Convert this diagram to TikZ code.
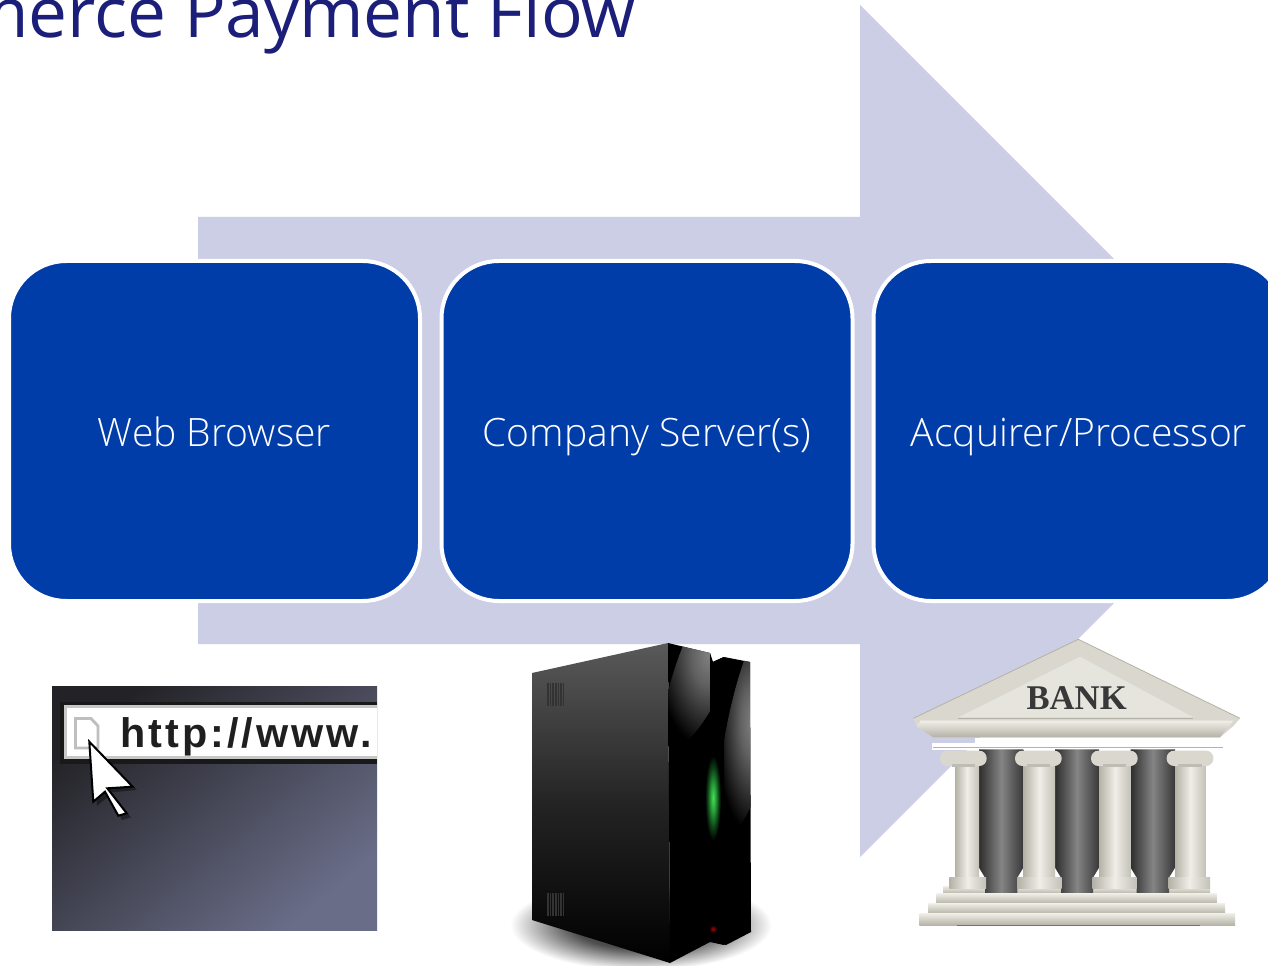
\documentclass[tikz,border=0pt]{standalone}
\usepackage{fontspec}
\setmainfont{Open Sans Light}
\newfontfamily\titlefont{Open Sans}
\newfontfamily\barfont{Liberation Sans}[LetterSpace=7.4]
\newfontfamily\bankfont{Liberation Serif}
\definecolor{arrowfill}{HTML}{CBCEE4}
\definecolor{boxfill}{HTML}{003DA9}
\definecolor{titlec}{HTML}{1B1F7A}
\definecolor{stone}{HTML}{DAD8CE}
\definecolor{stoned}{HTML}{B4B2A6}
\definecolor{stonel}{HTML}{EFEEE7}
\definecolor{browsA}{HTML}{232327}
\definecolor{browsM}{HTML}{484A58}
\definecolor{browsB}{HTML}{6A6D88}
\definecolor{ledA}{HTML}{48DC58}
\definecolor{ledB}{HTML}{28A038}
\definecolor{ledC}{HTML}{0C3C14}
\pgfdeclareradialshading{ledglow}{\pgfpoint{0bp}{0bp}}{color(0bp)=(ledA);color(8bp)=(ledB);color(18bp)=(ledC);color(25bp)=(black);color(50bp)=(black)}
\pgfdeclareradialshading{soft}{\pgfpoint{0bp}{0bp}}{color(0bp)=(black!80);color(13bp)=(black!70);color(25bp)=(white);color(50bp)=(white)}
\pgfdeclareradialshading{sheen}{\pgfpoint{0bp}{0bp}}{color(0bp)=(black!50);color(8bp)=(black!62);color(25bp)=(black);color(50bp)=(black)}
\pgfdeclareradialshading{redled}{\pgfpoint{0bp}{0bp}}{color(0bp)=(red!70!black);color(25bp)=(black);color(50bp)=(black)}
\tikzset{
  stage/.style={draw=white,line width=3pt,fill=boxfill,rounded corners=43pt,minimum width=308.25pt,minimum height=255pt,inner sep=0pt,text=white,text height=24pt,text depth=1.5pt,font=\fontsize{29.3}{34}\selectfont},
  shaft/.style={left color=stoned,right color=stoned!80,middle color=stonel},
  bay/.style={left color=black!82,right color=black!78,middle color=black!48},
  capital/.style={fill=stone,rounded corners=5.5pt},
  tier/.style={top color=stonel,bottom color=stoned},
  vent/.style={draw=black!80,line width=1.1pt},
}
\begin{document}
\begin{tikzpicture}[x=0.75pt,y=-0.75pt]
\useasboundingbox (0,0) rectangle (1268,966);
\clip (0,0) rectangle (1268,966);
\fill[white] (0,0) rectangle (1268,966);
% big arrow
\fill[arrowfill] (198,217) -- (860,217) -- (860,5) -- (1286,431) -- (860,857) -- (860,644) -- (198,644) -- cycle;
% title
\node[anchor=base east,inner sep=0pt,text=titlec,font=\titlefont\fontsize{52}{60}\selectfont] (title) at (636,38) {merce Payment Flow};
% process boxes
\node[stage] (web) at (214.5,431) {Web Browser};
\node[stage] (srv) at (647,431) {Company Server(s)};
\node[stage] (acq) at (1079,431) {Acquirer/Processor};
% browser picture
\shade[top color=browsA,middle color=browsM,bottom color=browsB,shading angle=40] (52,686) rectangle (377,930);
\fill[black!90] (60,702) rectangle (377,764);
\fill[white] (64,705) rectangle (377,759);
\draw[black!22,line width=1.6pt] (377,706.5) -- (65.5,706.5) -- (65.5,757.5) -- (377,757.5);
\draw[black!25,line width=2.2pt] (75.5,718.5) -- (91,718.5) -- (98,726) -- (98,748) -- (75.5,748) -- cycle;
\node[anchor=base west,inner sep=0pt,text=black!88,font=\barfont\bfseries\fontsize{31}{36}\selectfont] (url) at (120,747) {http://www.};
\fill[black,opacity=.4] (92.3,745.7) -- (137,790) -- (111.3,792.3) -- (131,817.3) -- (122,820) -- (109,796) -- (97,806) -- cycle;
\draw[black,line width=1.5pt,fill=white,line join=miter] (89.3,741.7) -- (132.7,786.7) -- (107.3,788.3) -- (126.7,813.3) -- (118.3,815.7) -- (105,791.7) -- (93.3,801.7) -- cycle;
% server picture
\shade[shading=soft] (641,925) ellipse[x radius=98pt,y radius=34pt];
\shade[top color=black!65,bottom color=black,middle color=black!86] (532,673) -- (668,643) -- (670,963) -- (532,920) -- cycle;
\foreach \vx in {548,550.6,...,564}{
  \draw[vent] (\vx,683) -- (\vx,706);
  \draw[vent] (\vx,893) -- (\vx,916);
}
\begin{scope}
 \clip (668,643) -- (710,653) -- (710,942) -- (670,963) -- cycle;
 \fill[black] (660,640) rectangle (715,970);
 \shade[shading=sheen,rotate around={-22:(708,655)}] (708,655) ellipse[x radius=20pt,y radius=75pt];
\end{scope}
\fill[black] (710,653) -- (713,662) -- (724,657) -- (724,945) -- (710,942) -- cycle;
\begin{scope}
 \clip (713,662) -- (724,657) -- (750,662) -- (751,932) -- (726,945) -- (713,942) -- cycle;
 \fill[black] (705,650) rectangle (760,950);
 \shade[shading=sheen,rotate around={-12:(752,722)}] (752,722) ellipse[x radius=18pt,y radius=85pt];
 \fill[black] (713,662) -- (724,657) -- (724,945) -- (713,942) -- cycle;
\end{scope}
\shade[shading=ledglow] (713,798) ellipse[x radius=6pt,y radius=32pt];
\shade[shading=redled] (713,929) circle[radius=3pt];
% bank picture, in thirds of a pixel
\begin{scope}[shift={(900,630)},x=0.25pt,y=-0.25pt]
 \fill[white] (225,325) rectangle (970,360);
 \fill[white] (95,340) rectangle (225,360);
 \draw[black!30,line width=.4pt] (100,353) -- (970,353);
 \shade[tier] (130,768) rectangle (930,792);
 \foreach \bx/\bw in {237/133,465/132,692/133}{
  \shade[bay] (\bx,358) -- ++(\bw,0) -- ++(0,355) -- ++(-18,30) -- ++(0,47) -- ++(-\bw+36,0) -- ++(0,-47) -- ++(-18,-30) -- cycle;
 }
 \foreach \cx/\cw in {165/72,370/95,597/95,825/92}{
  \shade[shaft] (\cx,400) rectangle ++(\cw,345);
 }
 \foreach \fa/\fb in {148/258,352/485,577/710,805/930}{
  \shade[shaft] (\fa,742) rectangle (\fb,775);
 }
 \foreach \px in {190,415,643,870}{
  \fill[capital] (\px-70,362) rectangle ++(140,46);
  \fill[stoned!85] (\px-35,402) rectangle (\px+35,412);
 }
 \shade[tier] (110,790) rectangle (950,822);
 \shade[tier] (85,820) rectangle (975,852);
 \shade[tier] (58,850) rectangle (1005,886);
 \fill[black!55] (170,885) rectangle (900,888);
 \fill[stone] (535,28) -- (1020,265) -- (1000,288) -- (960,322) -- (100,322) -- (50,290) -- (40,265) -- cycle;
 \draw[stoned,line width=.6pt] (40,265) -- (535,28) -- (1020,265);
 \shade[top color=stonel,bottom color=stoned] (62,272) -- (1000,272) -- (960,322) -- (100,322) -- (50,290) -- cycle;
 \fill[stone!70!white] (540,80) -- (880,262) -- (175,262) -- cycle;
 \draw[stoned,line width=1pt] (175,266) -- (880,266);
 \node[inner sep=0pt,text=black!78,font=\bankfont\bfseries\fontsize{26}{30}\selectfont] (bank) at (530,205) {BANK};
\end{scope}
\end{tikzpicture}
\end{document}
